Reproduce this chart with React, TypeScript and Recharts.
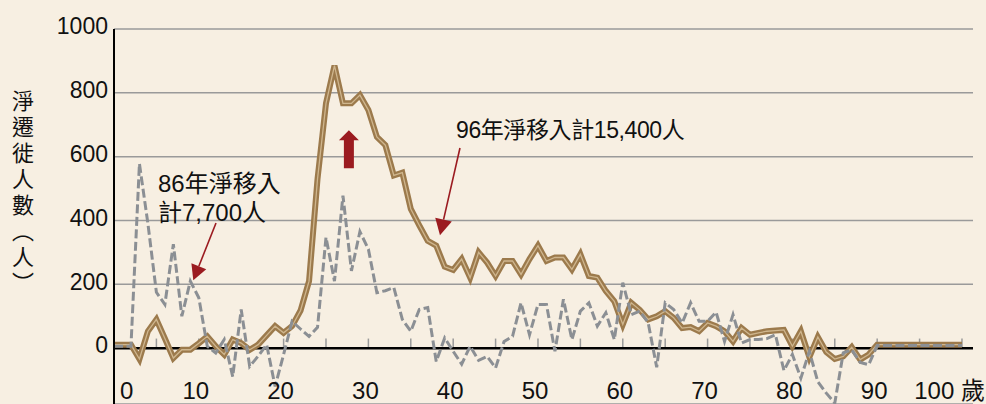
import {
  LineChart,
  Line,
  XAxis,
  YAxis,
  CartesianGrid,
  ReferenceLine,
  ReferenceDot,
} from "recharts";

const AGES = [
  0, 1, 2, 3, 4, 5, 6, 7, 8, 9, 10, 11, 12, 13, 14, 15, 16, 17, 18, 19, 20,
  21, 22, 23, 24, 25, 26, 27, 28, 29, 30, 31, 32, 33, 34, 35, 36, 37, 38, 39, 40,
  41, 42, 43, 44, 45, 46, 47, 48, 49, 50, 51, 52, 53, 54, 55, 56, 57, 58, 59, 60,
  61, 62, 63, 64, 65, 66, 67, 68, 69, 70, 71, 72, 73, 74, 75, 76, 77, 78, 79, 80,
  81, 82, 83, 84, 85, 86, 87, 88, 89, 90, 91, 92, 93, 94, 95, 96, 97, 98, 99, 100,
];

// 86年 (dashed grey)
const NET_86 = [
  6, 6, 6, 578, 390, 175, 137, 326, 100, 210, 158,
  6, -15, 27, -89, 121, -57, -25, 11, -120, -20,
  84, 60, 37, 65, 347, 210, 478, 242, 365, 310,
  174, 180, 190, 90, 53, 121, 127, -42, 32, -10,
  -50, 6, -38, -26, -62, 21, 37, 142, 42, 137,
  137, -10, 153, 27, 116, 142, 69, 111, 27, 205,
  105, 116, 79, -60, 142, 121, 79, 142, 84, 84,
  113, 21, 105, 16, 27, 27, 30, 42, -70, -20,
  -94, -10, -105, -141, -172, -15, -5, -45, -52, 8,
  8, 8, 8, 8, 8, 8, 8, 8, 8, 8,
];

// 96年 (brown double line)
const NET_96 = [
  11, 11, 11, -34, 53, 90, 30, -31, -5, -5, 15,
  37, 6, -20, 27, 16, -5, 11, 40, 69, 48,
  69, 118, 210, 530, 767, 885, 767, 767, 793, 746,
  662, 636, 541, 550, 436, 385, 336, 321, 255, 245,
  279, 221, 300, 268, 226, 273, 273, 231, 279, 321,
  273, 284, 284, 247, 294, 226, 221, 179, 147, 74,
  142, 120, 90, 100, 116, 95, 63, 66, 53, 79,
  69, 53, 21, 63, 42, 48, 53, 55, 57, 6,
  53, -28, 35, -12, -34, -26, 3, -36, -20, 11,
  11, 11, 11, 11, 11, 11, 11, 11, 11, 11,
];

const X_TICKS = [0, 10, 20, 30, 40, 50, 60, 70, 80, 90, 100];
const MINOR_TICKS = [5, 10, 15, 20, 25, 30, 35, 40, 45, 50, 55, 60, 65, 70, 75, 80, 85, 90, 95, 100];
const Y_TICKS = [0, 200, 400, 600, 800, 1000];

const BG = "#f7efe2";
const BROWN = "#9c7a4c";
const BROWN_INNER = "#cfb68e";
const GREY = "#8b8f94";
const RED = "#9b1b20";
const FONT = "'Liberation Sans', Arial, 'Noto Sans CJK TC', sans-serif";

const chartData = AGES.map((age, i) => ({ age, y86: NET_86[i], y96: NET_96[i] }));

// x labels sit at the foot of the picture, below the zero line
const XTick = ({ x, payload }: any) => {
  const v = payload.value;
  const common = { y: 398.5, fontSize: 24, fill: "#111", fontFamily: FONT };
  if (v === 0) {
    return <text x={x + 6} textAnchor="start" {...common}>0</text>;
  }
  if (v === 100) {
    return <text x={x + 23} textAnchor="end" {...common}>100 歲</text>;
  }
  return <text x={x - 3} textAnchor="middle" {...common}>{v}</text>;
};

const YTick = ({ x, y, payload }: any) => (
  <text x={x} y={y - 3} dy="0.36em" textAnchor="end" fontSize={23} fill="#111" fontFamily={FONT}>
    {payload.value}
  </text>
);

// thin arrow with a triangular head at (x2, y2)
const Arrow = (headLen: number, headWidth: number) => (props: any) => {
  const { x1, y1, x2, y2 } = props;
  const len = Math.hypot(x2 - x1, y2 - y1);
  const ux = (x2 - x1) / len;
  const uy = (y2 - y1) / len;
  const bx = x2 - ux * headLen;
  const by = y2 - uy * headLen;
  const px = -uy * (headWidth / 2);
  const py = ux * (headWidth / 2);
  return (
    <g>
      <line x1={x1} y1={y1} x2={bx} y2={by} stroke={RED} strokeWidth={1.6} />
      <polygon points={`${x2},${y2} ${bx + px},${by + py} ${bx - px},${by - py}`} fill={RED} />
    </g>
  );
};

// block arrow pointing up, from base (x1,y1) to tip (x2,y2)
const BlockArrow = (props: any) => {
  const { x1, y1, y2 } = props;
  const head = 10;
  const pts = [
    [x1, y2],
    [x1 + 10, y2 + head],
    [x1 + 5, y2 + head],
    [x1 + 5, y1],
    [x1 - 5, y1],
    [x1 - 5, y2 + head],
    [x1 - 10, y2 + head],
  ]
    .map((p) => p.join(","))
    .join(" ");
  return <polygon points={pts} fill={RED} />;
};

const Note86 = ({ cx, cy }: any) => (
  <text x={cx} y={cy} fontSize={24} fill="#111" fontFamily={FONT}>
    <tspan x={cx}>86年淨移入</tspan>
    <tspan x={cx} dy={29}>計7,700人</tspan>
  </text>
);

const Note96 = ({ cx, cy }: any) => (
  <text x={cx} y={cy} fontSize={23} letterSpacing={-0.4} fill="#111" fontFamily={FONT}>
    96年淨移入計15,400人
  </text>
);

export default function App() {
  return (
    <div
      style={{
        position: "absolute",
        left: 0,
        top: 0,
        width: 986,
        height: 404,
        background: BG,
        overflow: "hidden",
      }}
    >
      <div
        style={{
          position: "absolute",
          left: 12,
          top: 90,
          writingMode: "vertical-rl",
          fontSize: 22,
          letterSpacing: 4,
          lineHeight: 1,
          color: "#111",
          fontFamily: "'Noto Sans CJK TC', sans-serif",
        }}
      >
        淨遷徙人數（人）
      </div>
      <LineChart
        width={986}
        height={405}
        data={chartData}
        margin={{ top: 29, right: 13, bottom: 0, left: 0 }}
        style={{ position: "absolute", left: 0, top: 0 }}
      >
        <CartesianGrid horizontal vertical={false} stroke="#9a9a9a" strokeWidth={1.5} />
        <XAxis
          dataKey="age"
          type="number"
          domain={[0, 101.3]}
          allowDataOverflow
          ticks={X_TICKS}
          interval={0}
          height={1}
          axisLine={false}
          tickLine={false}
          tick={<XTick />}
        />
        <YAxis
          type="number"
          domain={[-175, 1000]}
          allowDataOverflow
          ticks={Y_TICKS}
          interval={0}
          width={114}
          tickSize={0}
          tickMargin={6}
          tickLine={false}
          axisLine={{ stroke: "#000", strokeWidth: 2 }}
          tick={<YTick />}
        />
        {MINOR_TICKS.map((a) => (
          <ReferenceLine
            key={a}
            segment={[
              { x: a, y: 0 },
              { x: a, y: 30 },
            ]}
            stroke="#9a9a9a"
            strokeWidth={1.5}
          />
        ))}
        <ReferenceLine y={0} stroke="#000" strokeWidth={2.5} />
        <Line
          dataKey="y96"
          type="linear"
          stroke={BROWN}
          strokeWidth={6}
          dot={false}
          activeDot={false}
          isAnimationActive={false}
        />
        <Line
          dataKey="y96"
          type="linear"
          stroke={BROWN_INNER}
          strokeWidth={1.3}
          dot={false}
          activeDot={false}
          isAnimationActive={false}
        />
        <Line
          dataKey="y86"
          type="linear"
          stroke={GREY}
          strokeWidth={3}
          strokeDasharray="9 3.5"
          dot={false}
          activeDot={false}
          isAnimationActive={false}
        />
        <ReferenceLine
          segment={[
            { x: 12.03, y: 392 },
            { x: 9.35, y: 213 },
          ]}
          shape={Arrow(15, 16)}
        />
        <ReferenceLine
          segment={[
            { x: 40.8, y: 627 },
            { x: 38.44, y: 354 },
          ]}
          shape={Arrow(16, 17)}
        />
        <ReferenceLine
          segment={[
            { x: 27.7, y: 564 },
            { x: 27.7, y: 683 },
          ]}
          shape={BlockArrow}
        />
        <ReferenceDot x={5.19} y={489} r={0} shape={Note86} />
        <ReferenceDot x={40.33} y={660} r={0} shape={Note96} />
      </LineChart>
    </div>
  );
}
